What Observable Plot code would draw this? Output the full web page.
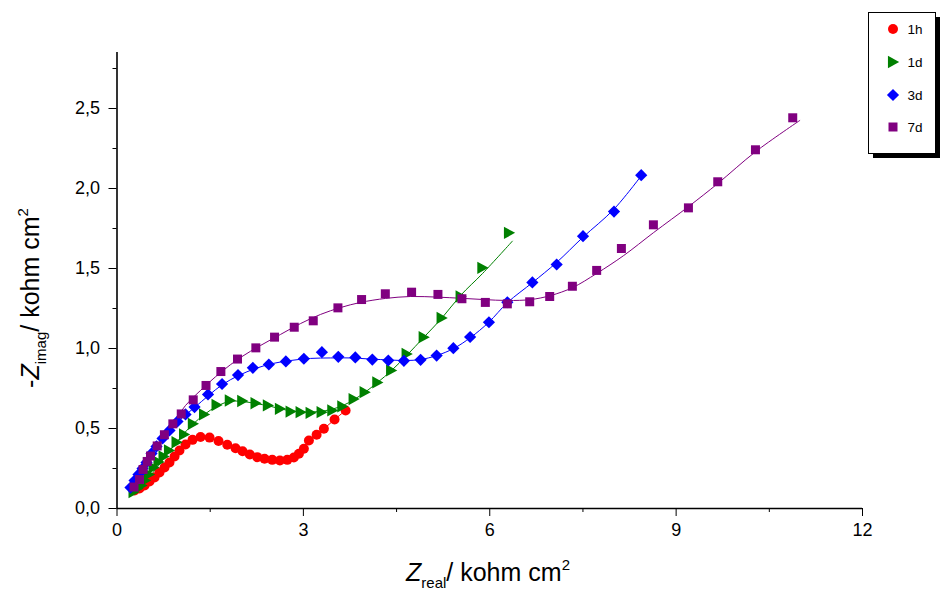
<!DOCTYPE html>
<html>
<head>
<meta charset="utf-8">
<script src="https://cdn.jsdelivr.net/npm/d3@7"></script>
<script src="https://cdn.jsdelivr.net/npm/@observablehq/plot@0.6"></script>
<style>
  html, body { margin: 0; padding: 0; background: #fff; }
  #chart { position: relative; width: 940px; height: 592px; }
</style>
</head>
<body>
<div id="chart"></div>
<script>
// ---------- data (Zreal, -Zimag in kohm cm²) ----------
const seriesNames = ["1h", "1d", "3d", "7d"];
const seriesColors = ["#ff0000", "#008000", "#0000ff", "#800080"];

const x1h = [0.282,0.362,0.443,0.523,0.604,0.684,0.765,0.845,0.926,1.006,1.103,1.216,1.345,1.490,1.634,1.775,1.908,2.021,2.138,2.258,2.375,2.499,2.622,2.741,2.847,2.928,3.008,3.089,3.213,3.330,3.502,3.680];
const y1h = [0.113,0.125,0.144,0.169,0.194,0.225,0.256,0.288,0.325,0.363,0.400,0.429,0.447,0.443,0.422,0.398,0.377,0.358,0.338,0.321,0.311,0.304,0.300,0.304,0.319,0.342,0.373,0.425,0.461,0.498,0.556,0.613];

const x1d = [0.266,0.330,0.394,0.451,0.515,0.588,0.668,0.749,0.837,0.958,1.079,1.221,1.401,1.602,1.816,2.016,2.230,2.428,2.622,2.794,2.955,3.116,3.293,3.465,3.626,3.808,3.986,4.190,4.412,4.662,4.936,5.225,5.531,5.881,6.309];
const y1d = [0.103,0.125,0.144,0.175,0.213,0.256,0.291,0.325,0.363,0.414,0.463,0.529,0.588,0.647,0.675,0.672,0.658,0.644,0.623,0.606,0.602,0.598,0.602,0.613,0.638,0.684,0.727,0.788,0.863,0.966,1.071,1.191,1.325,1.504,1.723];

const x3d = [0.217,0.282,0.346,0.411,0.475,0.556,0.636,0.733,0.845,0.974,1.103,1.248,1.465,1.691,1.948,2.187,2.444,2.718,3.008,3.298,3.562,3.836,4.110,4.367,4.618,4.887,5.145,5.414,5.684,5.987,6.283,6.686,7.077,7.501,8.000,8.438];
const y3d = [0.131,0.175,0.213,0.250,0.288,0.344,0.388,0.438,0.488,0.544,0.588,0.634,0.713,0.778,0.834,0.879,0.900,0.919,0.936,0.977,0.948,0.944,0.931,0.925,0.923,0.929,0.956,1.002,1.072,1.164,1.289,1.413,1.525,1.702,1.856,2.083];

const x7d = [0.274,0.362,0.419,0.486,0.539,0.647,0.763,0.899,1.034,1.227,1.433,1.672,1.940,2.235,2.536,2.853,3.159,3.556,3.937,4.319,4.742,5.166,5.552,5.929,6.283,6.643,6.965,7.330,7.721,8.119,8.634,9.198,9.670,10.277,10.877];
const y7d = [0.134,0.181,0.244,0.294,0.328,0.391,0.461,0.529,0.591,0.679,0.769,0.856,0.934,1.004,1.071,1.133,1.173,1.254,1.306,1.342,1.352,1.338,1.311,1.288,1.279,1.292,1.325,1.389,1.488,1.625,1.773,1.879,2.042,2.242,2.442];

// fitted curves (thin lines)
const fitX1d = [0.250,0.378,0.507,0.668,0.829,1.023,1.216,1.409,1.602,1.812,2.021,2.230,2.448,2.641,2.834,3.043,3.253,3.446,3.639,3.816,3.986,4.195,4.420,4.662,4.936,5.225,5.531,5.885,6.364];
const fitY1d = [0.094,0.131,0.188,0.269,0.350,0.444,0.525,0.588,0.638,0.669,0.669,0.656,0.641,0.622,0.609,0.603,0.606,0.619,0.644,0.681,0.725,0.788,0.863,0.956,1.069,1.188,1.332,1.469,1.671];

const fitX3d = [0.185,0.298,0.411,0.539,0.700,0.861,1.055,1.248,1.473,1.699,1.957,2.230,2.504,2.794,3.116,3.438,3.760,4.082,4.404,4.646,4.887,5.145,5.419,5.692,5.982,6.288,6.691,7.077,7.496,7.995,8.430];
const fitY3d = [0.119,0.175,0.244,0.325,0.419,0.500,0.569,0.631,0.706,0.775,0.831,0.875,0.906,0.925,0.938,0.941,0.941,0.934,0.928,0.925,0.931,0.956,1.000,1.069,1.163,1.288,1.413,1.538,1.694,1.869,2.075];

const fitX7d = [0.266,0.411,0.539,0.700,0.894,1.103,1.345,1.667,1.989,2.311,2.633,2.955,3.277,3.599,3.921,4.324,4.726,5.161,5.531,5.902,6.288,6.659,6.981,7.335,7.721,8.156,8.639,9.203,9.670,10.282,10.990];
const fitY7d = [0.131,0.238,0.325,0.425,0.531,0.644,0.738,0.850,0.944,1.019,1.088,1.156,1.213,1.256,1.288,1.313,1.325,1.321,1.314,1.306,1.300,1.306,1.331,1.381,1.469,1.581,1.725,1.888,2.031,2.231,2.425];

const xTicks = [0, 3, 6, 9, 12];
const xMinor = [1.5, 4.5, 7.5, 10.5];
const yTicks = [0, 0.5, 1, 1.5, 2, 2.5];
const yMinor = [0.25, 0.75, 1.25, 1.75, 2.25, 2.75];

// ---------- helpers ----------
const zip = (xs, ys) => xs.map((x, i) => ({x, y: ys[i]}));
const rOf = size => Math.sqrt(size / Math.PI);
const triRight = {draw(ctx, size) { const r = rOf(size); ctx.moveTo(-0.9*r, -1.1*r); ctx.lineTo(1.1*r, 0); ctx.lineTo(-0.9*r, 1.1*r); ctx.closePath(); }};
const diamond = {draw(ctx, size) { const r = rOf(size); ctx.moveTo(0, -r); ctx.lineTo(r, 0); ctx.lineTo(0, r); ctx.lineTo(-r, 0); ctx.closePath(); }};
const square = {draw(ctx, size) { const r = rOf(size); ctx.rect(-r, -r, 2*r, 2*r); }};
const circle = {draw(ctx, size) { const r = rOf(size); ctx.moveTo(r, 0); ctx.arc(0, 0, r, 0, 2*Math.PI); }};

const series = [
  {data: zip(x1h, y1h), fit: zip(x1h, y1h), symbol: circle, r: 5},
  {data: zip(x1d, y1d), fit: zip(fitX1d, fitY1d), symbol: triRight, r: 5.6},
  {data: zip(x3d, y3d), fit: zip(fitX3d, fitY3d), symbol: diamond, r: 6.1},
  {data: zip(x7d, y7d), fit: zip(fitX7d, fitY7d), symbol: square, r: 4.5}
];

const lineMarks = series.map((s, i) => Plot.line(s.fit, {x: "x", y: "y", stroke: seriesColors[i], strokeWidth: 1, curve: "catmull-rom"}));
const dotMarks = series.map((s, i) => Plot.dot(s.data, {x: "x", y: "y", r: s.r, symbol: s.symbol, fill: seriesColors[i], stroke: "none"}));

const fmtY = d => d.toFixed(1).replace(".", ",");

const chart = Plot.plot({
  width: 940,
  height: 592,
  marginLeft: 116.5,
  marginRight: 78,
  marginTop: 52,
  marginBottom: 84,
  x: {domain: [0, 12]},
  y: {domain: [0, 2.85]},
  style: {fontFamily: "'Liberation Sans', Arial, sans-serif", fontSize: "18px", color: "#000", background: "#fff", overflow: "visible"},
  marks: [
    Plot.axisX({ticks: xTicks, tickSize: 8, tickPadding: 7, tickFormat: d => String(d), label: null, fontSize: 18}),
    Plot.axisX({ticks: xMinor, tickSize: 4, tickFormat: () => "", label: null}),
    Plot.axisY({ticks: yTicks, tickSize: 8, tickPadding: 9, tickFormat: fmtY, label: null, fontSize: 18}),
    Plot.axisY({ticks: yMinor, tickSize: 4, tickFormat: () => "", label: null}),
    Plot.ruleX([0], {stroke: "#000", strokeWidth: 1.6}),
    Plot.ruleY([0], {stroke: "#000", strokeWidth: 1.6}),
    ...lineMarks,
    ...dotMarks
  ]
});

document.getElementById("chart").appendChild(chart);

// ---------- axis titles & legend ----------
const svg = d3.select(chart);
const font = "'Liberation Sans', Arial, sans-serif";

// x title
const xt = svg.append("text").attr("x", 488).attr("y", 581).attr("text-anchor", "middle")
  .attr("font-family", font).attr("font-size", 25).attr("fill", "#000");
xt.append("tspan").attr("font-style", "italic").text("Z");
xt.append("tspan").attr("font-size", 15).attr("dy", 7).text("real");
xt.append("tspan").attr("dy", -7).text("/ kohm cm");
xt.append("tspan").attr("font-size", 15).attr("dy", -11).text("2");

// y title
const yt = svg.append("text").attr("transform", "translate(39,298) rotate(-90)").attr("text-anchor", "middle")
  .attr("font-family", font).attr("font-size", 25).attr("fill", "#000");
yt.append("tspan").text("-");
yt.append("tspan").attr("font-style", "italic").text("Z");
yt.append("tspan").attr("font-size", 15).attr("dy", 7).text("imag");
yt.append("tspan").attr("dy", -7).text("/ kohm cm");
yt.append("tspan").attr("font-size", 15).attr("dy", -11).text("2");

// legend
const lg = svg.append("g");
lg.append("rect").attr("x", 873).attr("y", 17).attr("width", 67).attr("height", 141).attr("fill", "#000");
lg.append("rect").attr("x", 868.5).attr("y", 12.5).attr("width", 67).attr("height", 141).attr("fill", "#fff").attr("stroke", "#000").attr("stroke-width", 1);
const rowsY = [29, 62, 95, 127];
series.forEach((s, i) => {
  const path = d3.symbol().type(s.symbol).size(Math.PI * s.r * s.r)();
  lg.append("path").attr("d", path).attr("transform", `translate(893,${rowsY[i]})`).attr("fill", seriesColors[i]);
  lg.append("text").attr("x", 915).attr("y", rowsY[i]).attr("dy", "0.35em")
    .attr("font-family", font).attr("font-size", 13.5).attr("fill", "#000").text(seriesNames[i]);
});
</script>
</body>
</html>
